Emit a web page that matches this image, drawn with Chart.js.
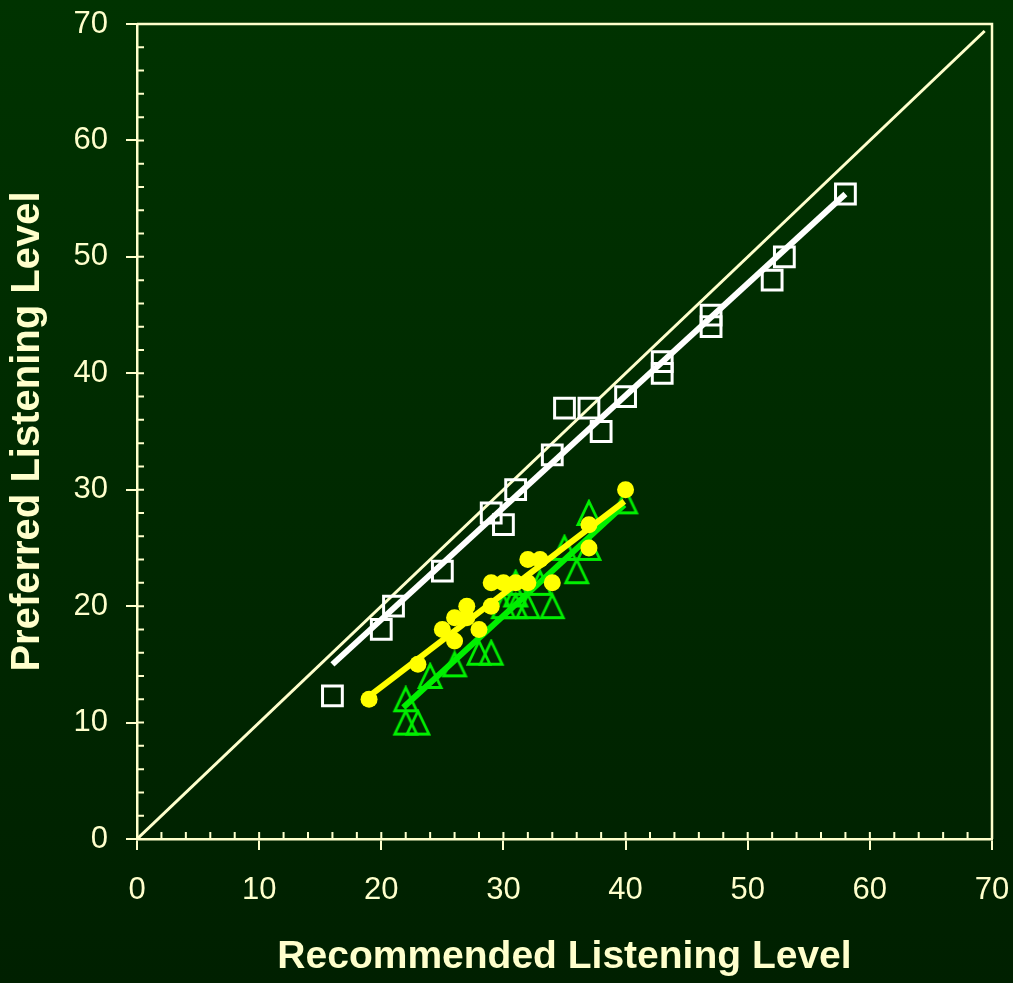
<!DOCTYPE html>
<html>
<head>
<meta charset="utf-8">
<script src="https://cdn.jsdelivr.net/npm/chart.js@4/dist/chart.umd.min.js"></script>
<style>
  html, body { margin: 0; padding: 0; }
  body { background: linear-gradient(to bottom, #003300, #002000); }
  #wrap { width: 1013px; height: 983px; position: relative; }
</style>
</head>
<body>
<div id="wrap"><canvas id="myChart"></canvas></div>
<script>
// data
const squareX = [16, 20, 21, 25, 29, 30, 31, 34, 35, 37, 38, 40, 43, 43, 47, 47, 52, 53, 58];
const squareY = [12.3, 18, 20, 23, 28, 27, 30, 33, 37, 37, 35, 38, 41, 40, 45, 44, 48, 50, 55.4];

const dotX = [19, 23, 25, 26, 26, 27, 27, 28, 29, 29, 30, 31, 32, 32, 33, 34, 37, 37, 40];
const dotY = [12, 15, 18, 17, 19, 20, 19, 18, 20, 22, 22, 22, 22, 24, 24, 22, 27, 25, 30];

const triX = [22, 22, 23, 24, 26, 28, 29, 30, 31, 31, 31, 32, 33, 34, 35, 36, 37, 37, 40];
const triY = [12, 10, 10, 14, 15, 16, 16, 20, 20, 21, 22, 20, 22, 20, 25, 23, 25, 28, 29];

// fitted lines (end points) and the identity line
const whiteFit = [[16, 15.0], [58, 55.4]];
const yellowFit = [[18.8, 12.1], [39.9, 29.0]];
const greenFit = [[21.8, 11.3], [39.9, 28.7]];
const identity = [[0, 0], [69.4, 69.4]];

const cream = '#ffffcc';
const green = '#00f000';
const font = '"Liberation Sans", Arial, sans-serif';

const pts = (xs, ys) => xs.map((x, i) => ({ x: x, y: ys[i] }));
const seg = (p) => p.map(([x, y]) => ({ x: x, y: y }));

// open triangle marker, centred on its bounding box like the original
function triangleMarker() {
  const c = document.createElement('canvas');
  c.width = 28;
  c.height = 28;
  const g = c.getContext('2d');
  g.strokeStyle = green;
  g.lineWidth = 2.8;
  g.lineJoin = 'miter';
  g.beginPath();
  g.moveTo(14, 2.5);
  g.lineTo(25, 25.5);
  g.lineTo(3, 25.5);
  g.closePath();
  g.stroke();
  return c;
}

// frame on top/right plus the small inward ticks every 2 units
const frame = {
  id: 'frame',
  afterDraw(chart) {
    const { ctx, chartArea: a, scales } = chart;
    ctx.save();
    ctx.strokeStyle = cream;
    ctx.lineWidth = 2.5;
    ctx.beginPath();
    ctx.moveTo(a.left, a.top);
    ctx.lineTo(a.right, a.top);
    ctx.lineTo(a.right, a.bottom);
    ctx.stroke();
    ctx.lineWidth = 2;
    ctx.beginPath();
    scales.x.ticks.forEach((t) => {
      const px = scales.x.getPixelForValue(t.value);
      ctx.moveTo(px, a.bottom);
      ctx.lineTo(px, a.bottom - 7);
    });
    scales.y.ticks.forEach((t) => {
      const py = scales.y.getPixelForValue(t.value);
      ctx.moveTo(a.left, py);
      ctx.lineTo(a.left + 7, py);
    });
    ctx.stroke();
    ctx.restore();
  },
};

const axis = (title, isX) => ({
  type: 'linear',
  min: 0,
  max: 70,
  afterFit(scale) {
    // fixed box sizes, and no extra room for the overhanging end labels
    if (isX) {
      scale.height = 144;
      scale.paddingLeft = 0;
      scale.paddingRight = 0;
    } else {
      scale.width = 137;
      scale.paddingTop = 0;
      scale.paddingBottom = 0;
    }
  },
  border: { color: cream, width: 2.5 },
  grid: {
    drawOnChartArea: false,
    tickLength: 11,
    lineWidth: 2,
    color: (c) => (c.tick && c.tick.value % 10 === 0 ? cream : 'rgba(0,0,0,0)'),
  },
  ticks: {
    stepSize: 2,
    autoSkip: false,
    maxRotation: 0,
    color: cream,
    padding: isX ? 22 : 18,
    font: { family: font, size: 31 },
    callback: (v) => (v % 10 === 0 ? String(v) : ''),
  },
  title: {
    display: true,
    text: title,
    color: cream,
    font: { family: font, size: isX ? 39 : 40, weight: 'bold' },
    padding: isX ? { top: 0, bottom: 2 } : { top: 4, bottom: 0 },
  },
});

new Chart(document.getElementById('myChart'), {
  type: 'scatter',
  data: {
    datasets: [
      {
        label: 'yellow points',
        data: pts(dotX, dotY),
        pointStyle: 'circle',
        pointRadius: 8.5,
        pointBackgroundColor: '#ffff00',
        pointBorderWidth: 0,
        order: 1,
      },
      {
        label: 'yellow fit',
        type: 'line',
        data: seg(yellowFit),
        borderColor: '#ffff00',
        borderWidth: 6,
        pointRadius: 0,
        order: 2,
      },
      {
        label: 'green fit',
        type: 'line',
        data: seg(greenFit),
        borderColor: green,
        borderWidth: 6,
        pointRadius: 0,
        order: 3,
      },
      {
        label: 'white fit',
        type: 'line',
        data: seg(whiteFit),
        borderColor: '#ffffff',
        borderWidth: 6,
        pointRadius: 0,
        order: 4,
      },
      {
        label: 'squares',
        data: pts(squareX, squareY),
        pointStyle: 'rect',
        pointRadius: 14,
        pointBackgroundColor: 'rgba(0,0,0,0)',
        pointBorderColor: '#ffffff',
        pointBorderWidth: 3,
        order: 5,
      },
      {
        label: 'triangles',
        data: pts(triX, triY),
        pointStyle: triangleMarker(),
        order: 6,
      },
      {
        label: 'identity',
        type: 'line',
        data: seg(identity),
        borderColor: cream,
        borderWidth: 3,
        pointRadius: 0,
        order: 7,
      },
    ],
  },
  options: {
    responsive: true,
    maintainAspectRatio: false,
    animation: false,
    layout: { padding: { top: 24, right: 21, left: 0, bottom: 0 } },
    plugins: {
      legend: { display: false },
      tooltip: { enabled: false },
    },
    scales: {
      x: axis('Recommended Listening Level', true),
      y: axis('Preferred Listening Level', false),
    },
  },
  plugins: [frame],
});
</script>
</body>
</html>
